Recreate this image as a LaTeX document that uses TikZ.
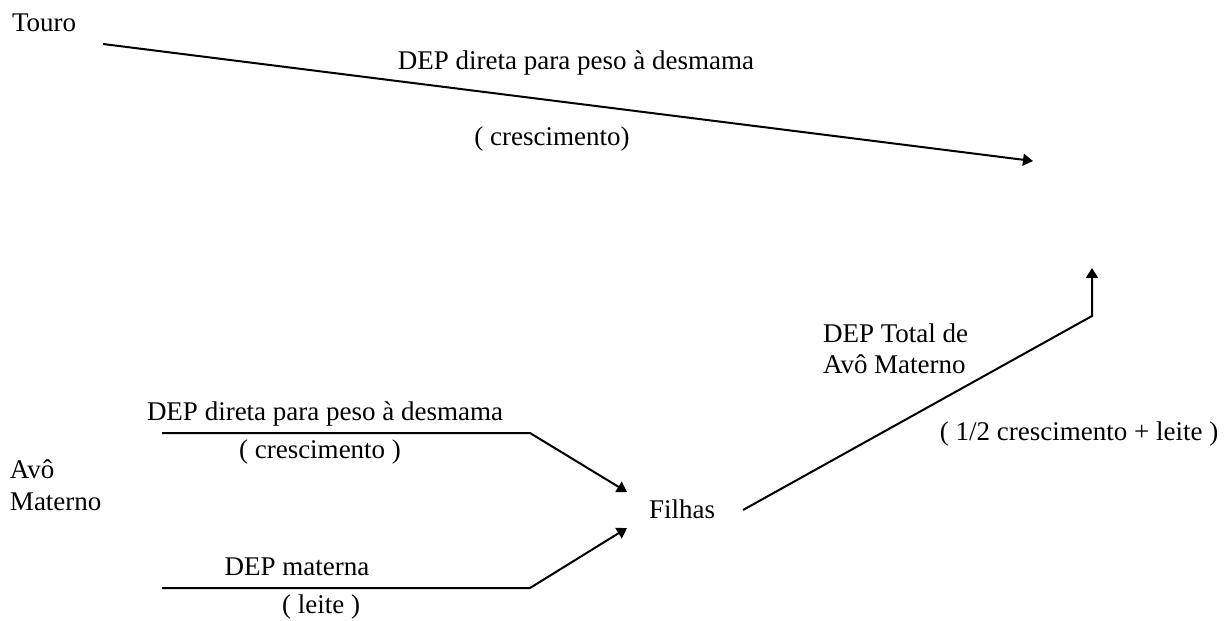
\documentclass[tikz,border=0pt]{standalone}
\usepackage{fontspec}
\setmainfont{Liberation Serif}
\usetikzlibrary{arrows.meta}
\begin{document}
\begin{tikzpicture}[x=0.5pt,y=-0.5pt,
  lbl/.style={inner sep=0pt,outer sep=0pt,font=\fontsize{13.5}{15.5}\selectfont},
  lw/.style={lbl,anchor=base west},
  lc/.style={lbl,anchor=base},
  conn/.style={line width=1pt},
  arr/.style={conn,-{Triangle[length=5pt,width=6pt]}}]
\useasboundingbox (0,0) rectangle (1226,621);
% texts
\node[lw] (touro) at (12,32) {Touro};
\node[lc] (dep1) at (576,69) {DEP direta para peso à desmama};
\node[lc] (cres1) at (552,145) {( crescimento)};
\node[lw] (tot1) at (823,342) {DEP Total de};
\node[lw] (tot2) at (823,373) {Avô Materno};
\node[lc] (mix) at (1079,440) {( 1/2 crescimento + leite )};
\node[lw] (dep2) at (147,420) {DEP direta para peso à desmama};
\node[lc] (cres2) at (320,458) {( crescimento )};
\node[lw] (avo1) at (10,478) {Avô};
\node[lw] (avo2) at (10,510) {Materno};
\node[lw] (filhas) at (649,518) {Filhas};
\node[lc] (mat) at (297,575) {DEP materna};
\node[lc] (leite) at (321,613) {( leite )};
% connector points
\coordinate (t0) at (103,44);
\coordinate (t1) at (1033,161);
\coordinate (u0) at (162,433);
\coordinate (u1) at (530,433);
\coordinate (u2) at (627,492);
\coordinate (l0) at (162,588);
\coordinate (l1) at (530,588);
\coordinate (l2) at (627,528);
\coordinate (f0) at (743,510);
\coordinate (f1) at (1092,316);
\coordinate (f2) at (1092,268);
% connectors
\draw[arr] (t0) -- (t1);
\draw[arr] (u0) -- (u1) -- (u2);
\draw[arr] (l0) -- (l1) -- (l2);
\draw[arr] (f0) -- (f1) -- (f2);
\end{tikzpicture}
\end{document}
